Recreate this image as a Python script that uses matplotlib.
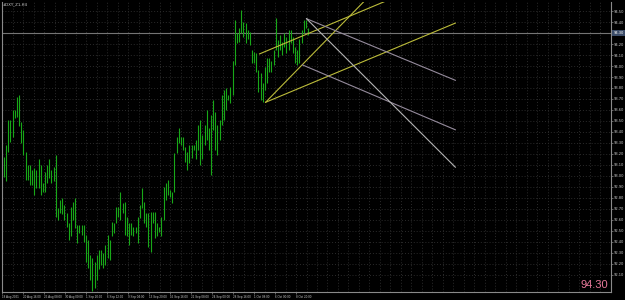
import matplotlib
matplotlib.use("Agg")
import matplotlib.pyplot as plt
import matplotlib.transforms as mtransforms
import numpy as np

# ---- data (prices, one entry per bar) ----
SYMBOL = "#DXY_Z1,H4"
HIGHS = [93.17, 93.28, 93.51, 93.51, 93.60, 93.60, 93.72, 93.74, 93.49, 93.42,
         93.22, 93.10, 93.10, 93.05, 93.07, 93.05, 93.15, 93.10, 92.94, 93.04,
         93.10, 93.15, 93.05, 93.08, 93.19, 92.71, 92.78, 92.80, 92.74, 92.66,
         92.57, 92.72, 92.76, 92.80, 92.55, 92.55, 92.55, 92.55, 92.46, 92.42,
         92.28, 92.25, 92.22, 92.28, 92.33, 92.33, 92.30, 92.37, 92.46, 92.42,
         92.58, 92.57, 92.72, 92.72, 92.85, 92.75, 92.76, 92.63, 92.57, 92.57,
         92.54, 92.54, 92.63, 92.74, 92.89, 92.76, 92.66, 92.66, 92.67, 92.67,
         92.67, 92.57, 92.54, 92.63, 92.90, 92.94, 92.96, 92.87, 92.85, 93.21,
         93.35, 93.44, 93.35, 93.35, 93.26, 93.22, 93.28, 93.28, 93.28, 93.33,
         93.46, 93.51, 93.37, 93.46, 93.60, 93.44, 93.55, 93.69, 93.58, 93.46,
         93.51, 93.74, 93.78, 93.80, 93.74, 93.81, 94.05, 94.42, 94.30, 94.35,
         94.51, 94.40, 94.39, 94.33, 94.31, 94.15, 94.13, 94.12, 93.96, 93.94,
         93.85, 93.99, 94.07, 94.07, 94.05, 94.15, 94.44, 94.24, 94.28, 94.22,
         94.30, 94.26, 94.33, 94.33, 94.26, 94.17, 94.15, 94.25, 94.33, 94.42,
         94.42, 94.35]
LOWS = [92.99, 92.95, 93.22, 93.31, 93.35, 93.53, 93.54, 93.45, 93.30, 93.19,
        92.96, 92.96, 92.92, 92.92, 92.83, 92.89, 92.89, 92.83, 92.85, 92.85,
        92.94, 92.98, 92.94, 92.95, 92.63, 92.60, 92.66, 92.65, 92.60, 92.54,
        92.42, 92.45, 92.60, 92.53, 92.39, 92.48, 92.46, 92.40, 92.22, 92.16,
        92.05, 91.95, 91.98, 92.05, 92.15, 92.19, 92.16, 92.19, 92.25, 92.24,
        92.45, 92.48, 92.57, 92.63, 92.60, 92.66, 92.46, 92.45, 92.37, 92.46,
        92.45, 92.48, 92.39, 92.62, 92.71, 92.57, 92.54, 92.35, 92.31, 92.57,
        92.44, 92.45, 92.49, 92.45, 92.60, 92.78, 92.83, 92.81, 92.75, 92.85,
        93.21, 93.30, 93.28, 93.24, 93.13, 93.05, 93.12, 93.16, 93.24, 93.15,
        93.24, 93.10, 93.15, 93.28, 93.33, 93.24, 93.01, 93.42, 93.24, 93.19,
        93.33, 93.46, 93.51, 93.60, 93.69, 93.66, 93.74, 94.01, 94.21, 94.22,
        94.30, 94.26, 94.21, 94.25, 94.19, 94.03, 94.03, 93.95, 93.76, 93.69,
        93.67, 93.78, 93.85, 93.95, 93.95, 94.01, 94.15, 94.08, 94.15, 94.10,
        94.17, 94.12, 94.15, 94.21, 94.12, 94.03, 94.01, 94.03, 94.21, 94.30,
        94.35, 94.28]
LAST_PRICE = 94.30
PRICE_TICKS = [92.10, 92.20, 92.30, 92.40, 92.50, 92.60, 92.70, 92.80, 92.90,
               93.00, 93.10, 93.20, 93.30, 93.40, 93.50, 93.60, 93.70, 93.80,
               93.90, 94.00, 94.10, 94.20, 94.30, 94.40, 94.50]
TIME_LABELS = ["18 Aug 2021", "20 Aug 16:00", "25 Aug 08:00", "30 Aug 00:00",
               "1 Sep 20:00", "6 Sep 12:00", "9 Sep 04:00", "13 Sep 20:00",
               "16 Sep 16:00", "21 Sep 08:00", "24 Sep 00:00", "28 Sep 16:00",
               "1 Oct 08:00", "6 Oct 00:00", "8 Oct 20:00"]

# drawn objects: (bar index, price) start/end
FORK_X0 = [121.3, 118.5, 121.3]
FORK_P0 = [93.67, 94.11, 93.67]
FORK_X1 = [209.3, 178.2, 167.6]
FORK_P1 = [94.39, 94.60, 94.60]
FAN_X0 = [140.3, 138.4, 140.3]
FAN_P0 = [94.43, 94.01, 94.43]
FAN_X1 = [209.3, 209.3, 209.3]
FAN_P1 = [93.87, 93.42, 93.08]
FAN_COL = ["#958b9c", "#958b9c", "#b4b4b4"]

# ---- layout (pixels of the 625x300 picture) ----
W, H = 625, 300
BAR_PX, X0 = 2.16, 3.0
def px2bar(px):
    return (px - X0) / BAR_PX

GREEN, TXT, GRID = "#18a818", "#c8c8c8", "#2b2b2b"

fig = plt.figure(figsize=(W / 100, H / 100), dpi=100, facecolor="black")
ax = fig.add_axes([2 / W, 8 / H, 609 / W, 290 / H], facecolor="black")
ax.set_xlim(px2bar(2), px2bar(611))
ax.set_ylim(91.945, 94.582)

# dotted grid
for k in range(1, 59):
    ax.axvline(px2bar(1.5 + 10.5 * k), color=GRID, lw=0.7, ls=(0, (1, 2)), zorder=0)
for p in PRICE_TICKS:
    ax.axhline(p, color=GRID, lw=0.7, ls=(0, (1, 2)), zorder=0)

# last price line
ax.axhline(LAST_PRICE, color="#747474", lw=0.8, zorder=1)

# bars
idx = np.arange(len(HIGHS))
ax.vlines(idx, LOWS, HIGHS, color=GREEN, lw=0.8, zorder=2)

# pitchfork-like objects
for x0, p0, x1, p1 in zip(FORK_X0, FORK_P0, FORK_X1, FORK_P1):
    ax.plot([x0, x1], [p0, p1], color="#bcbc3a", lw=0.8, zorder=3)
for x0, p0, x1, p1, c in zip(FAN_X0, FAN_P0, FAN_X1, FAN_P1, FAN_COL):
    ax.plot([x0, x1], [p0, p1], color=c, lw=0.8, zorder=3)

# axes frame
for s in ("left", "bottom", "right"):
    ax.spines[s].set_color("#8a8a8a")
    ax.spines[s].set_linewidth(0.8)
ax.spines["top"].set_visible(False)

ax.yaxis.tick_right()
ax.set_yticks(PRICE_TICKS)
ax.set_yticklabels(["" if abs(p - LAST_PRICE) < 1e-6 else f"{p:.2f}" for p in PRICE_TICKS])
ax.set_xticks([px2bar(1 + 21 * k) for k in range(len(TIME_LABELS))])
ax.set_xticklabels(TIME_LABELS, ha="left", family="Liberation Sans")
ax.tick_params(axis="both", colors="#8a8a8a", labelcolor=TXT,
               length=1.5, width=0.5, pad=0.6)
ax.tick_params(axis="x", labelsize=2.2)
ax.tick_params(axis="y", labelsize=2.6)

# highlighted last price on the price scale
trans = mtransforms.blended_transform_factory(ax.transAxes, ax.transData)
ax.text(1.004, LAST_PRICE, f"{LAST_PRICE:.2f}", transform=trans, ha="left", va="center",
        fontsize=2.6, color="white", clip_on=False,
        bbox=dict(boxstyle="square,pad=0.3", facecolor="#3b4c68", edgecolor="none"))

fig.text(3 / W, 1 - 2 / H, SYMBOL, ha="left", va="top", fontsize=2.8, color="#d0d0d0")
fig.text(608 / W, 1 - 288 / H, f"{LAST_PRICE:.2f}", ha="right", va="baseline",
         fontsize=8, color="#e8799b", family="Liberation Sans")

fig.savefig("out.png", dpi=100, facecolor="black")
